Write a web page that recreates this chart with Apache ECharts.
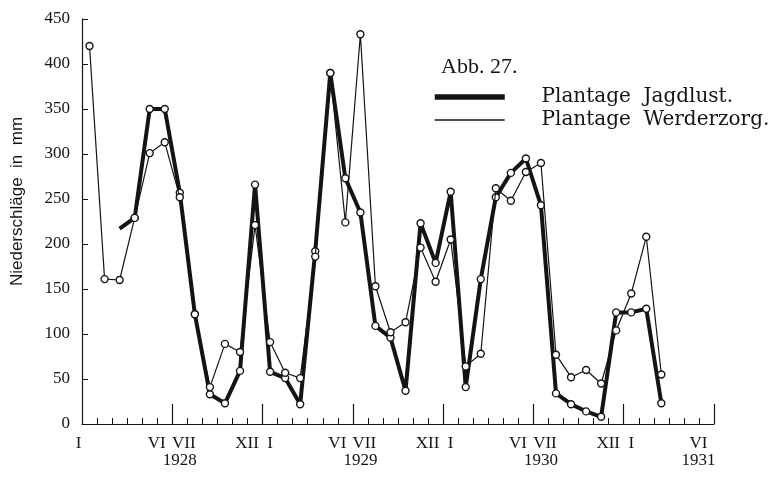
<!DOCTYPE html>
<html>
<head>
<meta charset="utf-8">
<script src="https://cdn.jsdelivr.net/npm/echarts@6/dist/echarts.min.js"></script>
<style>
	html, body { margin:0; padding:0; background:#fff; }
	#chart { width:769px; height:484px; }
</style>
</head>
<body>
<div id="chart"></div>
<script>
//Monate (Jan 1928 - Jun 1931)
var monthNames = ['I','II','III','IV','V','VI','VII','VIII','IX','X','XI','XII'];
var firstYear = 1928;
var monthCount = 42;
//welche Monate unten beschriftet werden
var labelMonths = ['I','VI','VII','XII'];
var yearLabelAt = ['1928-VII','1929-VII','1930-VII','1931-VI'];

//Niederschlaege in mm, Plantage Jagdlust (dicke Linie)
var jagdlust = [
	null, null, 217, 229, 350, 350, 257, 122, 33, 23, 59, 266,
	58, 51, 22, 192, 390, 273, 235, 109, 96, 37, 223, 179,
	258, 41, 161, 252, 279, 295, 243, 34, 22, 14, 8, 124,
	124, 128, 23
];
//Plantage Werderzorg (duenne Linie)
var werderzorg = [
	420, 161, 160, 229, 301, 313, 252, 122, 41, 89, 80, 221,
	91, 57, 51, 186, 390, 224, 433, 153, 102, 113, 196, 158,
	205, 64, 78, 262, 248, 280, 290, 77, 52, 60, 45, 104,
	145, 208, 55
];
var yTicks = [0, 50, 100, 150, 200, 250, 300, 350, 400, 450];

var ink = '#141414';

function buildCategories()
{
	var cats = [];
	for (var i = 0; i < monthCount; i++) {
		cats.push((firstYear + Math.floor(i / 12)) + '-' + monthNames[i % 12]);
	}
	return cats;
}

//VI und XII etwas nach links, VII nach rechts, damit sie nicht kollidieren
function monthLabel(value, index)
{
	var parts = value.split('-');
	var m = parts[1];
	if (labelMonths.indexOf(m) < 0) return '';
	var style = 'mi';
	if (index == 0) style = 'first';
	else if (m == 'VI' || m == 'XII') style = 'left';
	else if (m == 'VII') style = 'right';
	var txt = '{' + style + '|' + m + '}';
	if (yearLabelAt.indexOf(value) >= 0) {
		txt += '\n{' + (m == 'VI' ? 'left' : 'yr') + '|' + parts[0] + '}';
	}
	return txt;
}

function loadChart()
{
	var myChart = echarts.init(document.getElementById('chart'));
	var categories = buildCategories();

	//erster Punkt der dicken Linie ohne Kreis
	var jagdlustData = jagdlust.map(function (v, i) {
		if (i == 2) return { value: v, symbol: 'none' };
		return v;
	});

	var labelFont = { fontFamily: 'Liberation Serif', fontSize: 17, lineHeight: 17, color: ink };

	var option = {
		backgroundColor: '#fff',
		animation: false,
		title: {
			text: 'Abb. 27.',
			left: 441,
			top: 56,
			padding: 0,
			textStyle: { fontFamily: 'Liberation Serif', fontSize: 22, fontWeight: 'normal', color: ink }
		},
		legend: {
			orient: 'vertical',
			left: 432,
			top: 86,
			padding: 0,
			itemWidth: 70,
			itemHeight: 14,
			itemGap: 1,
			data: [
				{ name: 'Plantage Jagdlust.', lineStyle: { width: 5.5, color: ink } },
				{ name: 'Plantage Werderzorg.', lineStyle: { width: 1.3, color: ink } }
			],
			formatter: function (name) { return '     ' + name.replace(' ', '  '); },
			itemStyle: { opacity: 0 },
			textStyle: { fontFamily: 'DejaVu Serif', fontSize: 20, color: ink, lineHeight: 22 }
		},
		grid: { left: 82, right: 55, top: 19, bottom: 60 },
		xAxis: [
			{
				type: 'category',
				data: categories,
				boundaryGap: true,
				axisLine: { lineStyle: { color: ink, width: 1.2 } },
				axisTick: { show: true, inside: true, length: 6, interval: 0, lineStyle: { color: ink } },
				axisLabel: {
					interval: 0,
					margin: 11,
					formatter: monthLabel,
					fontFamily: 'Liberation Serif',
					fontSize: 17,
					lineHeight: 17,
					color: ink,
					rich: {
						mi: labelFont,
						yr: labelFont,
						first: Object.assign({ padding: [0, 22, 0, 0] }, labelFont),
						left: Object.assign({ padding: [0, 16, 0, 0] }, labelFont),
						right: Object.assign({ padding: [0, 0, 0, 8] }, labelFont)
					}
				},
				splitLine: { show: false }
			},
			{
				//lange Striche am Halbjahr
				type: 'category',
				data: categories,
				boundaryGap: true,
				position: 'bottom',
				axisLine: { show: false },
				axisTick: {
					show: true, inside: true, length: 20,
					interval: function (index) { return index > 0 && index % 6 == 0; },
					lineStyle: { color: ink, width: 1.2 }
				},
				axisLabel: { show: false },
				splitLine: { show: false }
			}
		],
		yAxis: {
			type: 'value',
			min: yTicks[0],
			max: yTicks[yTicks.length - 1],
			interval: yTicks[1] - yTicks[0],
			name: 'Niederschläge  in  mm',
			nameLocation: 'middle',
			nameRotate: 90,
			nameGap: 56,
			nameTextStyle: { fontFamily: 'Liberation Sans', fontSize: 17, color: ink, padding: [0, 0, 0, 40] },
			axisLine: { show: true, lineStyle: { color: ink, width: 1.2 } },
			axisTick: { show: true, inside: true, length: 6, lineStyle: { color: ink } },
			axisLabel: { margin: 12, fontFamily: 'Liberation Serif', fontSize: 17, color: ink },
			splitLine: { show: false }
		},
		series: [
			{
				name: 'Plantage Werderzorg.',
				type: 'line',
				data: werderzorg,
				symbol: 'circle',
				symbolSize: 7,
				itemStyle: { color: '#fff', borderColor: ink, borderWidth: 1.4 },
				lineStyle: { color: ink, width: 1.2 },
				z: 3
			},
			{
				name: 'Plantage Jagdlust.',
				type: 'line',
				data: jagdlustData,
				symbol: 'circle',
				symbolSize: 7,
				itemStyle: { color: '#fff', borderColor: ink, borderWidth: 1.4 },
				lineStyle: { color: ink, width: 4 },
				z: 2
			}
		]
	};

	myChart.setOption(option);
}

loadChart();
</script>
</body>
</html>
